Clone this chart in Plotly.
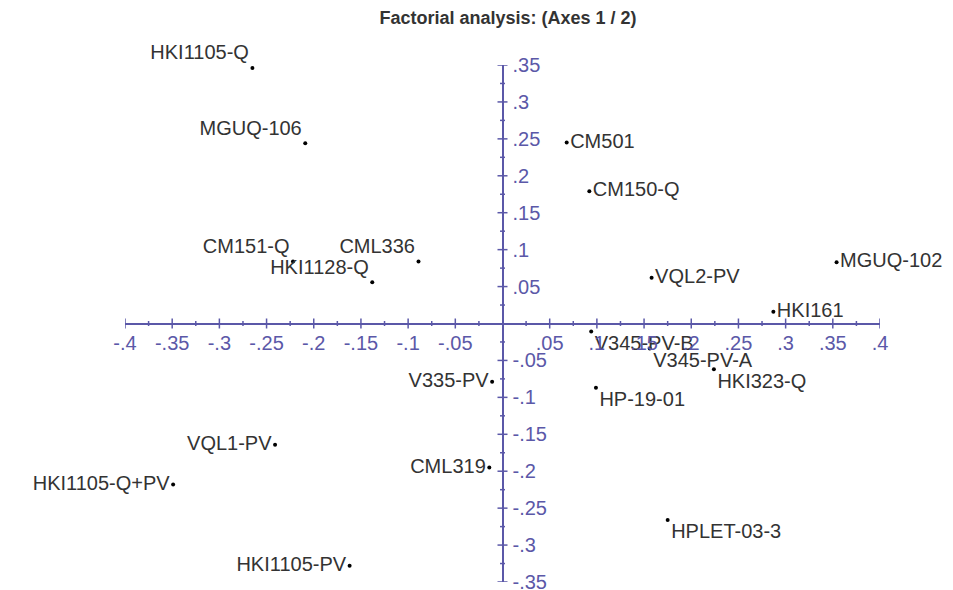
import plotly.graph_objects as go

# ---- data ----
names = ["HKI1105-Q", "MGUQ-106", "CM501", "CM150-Q", "CM151-Q", "CML336",
         "HKI1128-Q", "VQL2-PV", "MGUQ-102", "HKI161", "V345-PV-B", "V345-PV-A",
         "HKI323-Q", "HP-19-01", "V335-PV", "VQL1-PV", "HKI1105-Q+PV", "CML319",
         "HPLET-03-3", "HKI1105-PV"]
axis1 = [-0.265, -0.209, 0.068, 0.092, -0.222, -0.089,
         -0.138, 0.158, 0.354, 0.287, 0.094, 0.156,
         0.224, 0.099, -0.011, -0.241, -0.349, -0.014,
         0.175, -0.162]
axis2 = [0.346, 0.244, 0.245, 0.179, 0.084, 0.084,
         0.056, 0.062, 0.083, 0.016, -0.011, -0.034,
         -0.062, -0.087, -0.079, -0.164, -0.218, -0.195,
         -0.266, -0.328]
label_pos = ["top left", "top left", "middle right", "middle right", "top left", "top left",
             "top left", "middle right", "middle right", "middle right", "bottom right", "bottom right",
             "bottom right", "bottom right", "middle left", "middle left", "middle left", "middle left",
             "bottom right", "middle left"]

x_tickvals = [-0.4, -0.35, -0.3, -0.25, -0.2, -0.15, -0.1, -0.05,
              0.05, 0.1, 0.15, 0.2, 0.25, 0.3, 0.35, 0.4]
x_ticktext = ["-.4", "-.35", "-.3", "-.25", "-.2", "-.15", "-.1", "-.05",
              ".05", ".1", ".15", ".2", ".25", ".3", ".35", ".4"]
y_tickvals = [-0.35, -0.3, -0.25, -0.2, -0.15, -0.1, -0.05,
              0.05, 0.1, 0.15, 0.2, 0.25, 0.3, 0.35]
y_ticktext = ["-.35", "-.3", "-.25", "-.2", "-.15", "-.1", "-.05",
              ".05", ".1", ".15", ".2", ".25", ".3", ".35"]
x_minor = [-0.375, -0.325, -0.275, -0.225, -0.175, -0.125, -0.075, -0.025,
           0.025, 0.075, 0.125, 0.175, 0.225, 0.275, 0.325, 0.375]
y_minor = [-0.325, -0.275, -0.225, -0.175, -0.125, -0.075, -0.025,
           0.025, 0.075, 0.125, 0.175, 0.225, 0.275, 0.325]

title = "Factorial analysis: (Axes 1 / 2)"

# ---- style ----
AX = "#5B58A8"
TXT = "#333333"
FONT = "Arial, Liberation Sans, sans-serif"
XR = [-0.4, 0.4]
YR = [-0.35, 0.35]
W, H = 953, 590
ML, MR, MT, MB = 125, 73, 65, 8
px_x = (W - ML - MR) / (XR[1] - XR[0])
px_y = (H - MT - MB) / (YR[1] - YR[0])

fig = go.Figure()
fig.add_trace(go.Scatter(
    x=axis1, y=axis2, mode="markers+text", text=names,
    textposition=label_pos, cliponaxis=False,
    marker=dict(size=4, color="black"),
    textfont=dict(family=FONT, size=20, color=TXT),
    hoverinfo="text", showlegend=False))

shapes = []
def xtick(v, half):
    shapes.append(dict(type="line", xref="x", yref="y", x0=v, x1=v,
                       y0=-half / px_y, y1=half / px_y,
                       line=dict(color=AX, width=1.5)))
def ytick(v, half):
    shapes.append(dict(type="line", xref="x", yref="y", y0=v, y1=v,
                       x0=-half / px_x, x1=half / px_x,
                       line=dict(color=AX, width=1.5)))
for v in x_tickvals:
    xtick(v, 5)
for v in x_minor:
    xtick(v, 2.5)
for v in y_tickvals:
    ytick(v, 5)
for v in y_minor:
    ytick(v, 2.5)

fig.update_layout(
    width=W, height=H,
    margin=dict(l=ML, r=MR, t=MT, b=MB, autoexpand=False),
    paper_bgcolor="white", plot_bgcolor="white",
    shapes=shapes,
    title=dict(text="<b>" + title + "</b>", x=508 / W, xanchor="center",
               y=1 - 18 / H, yanchor="middle",
               font=dict(family=FONT, size=18, color=TXT)),
    xaxis=dict(range=XR, domain=[0, 1], anchor="free", position=0.5,
               showline=True, linecolor=AX, linewidth=2,
               tickvals=x_tickvals, ticktext=x_ticktext, ticks="",
               ticklabelstandoff=1, ticklabeloverflow="allow",
               tickfont=dict(family=FONT, size=20, color=AX),
               showgrid=False, zeroline=False, automargin=False, fixedrange=True),
    yaxis=dict(range=YR, domain=[0, 1], anchor="free", position=0.5, side="right",
               showline=True, linecolor=AX, linewidth=2,
               tickvals=y_tickvals, ticktext=y_ticktext, ticks="",
               ticklabelstandoff=5, ticklabeloverflow="allow",
               tickfont=dict(family=FONT, size=20, color=AX),
               showgrid=False, zeroline=False, automargin=False, fixedrange=True),
)

fig.write_html("out.html")
